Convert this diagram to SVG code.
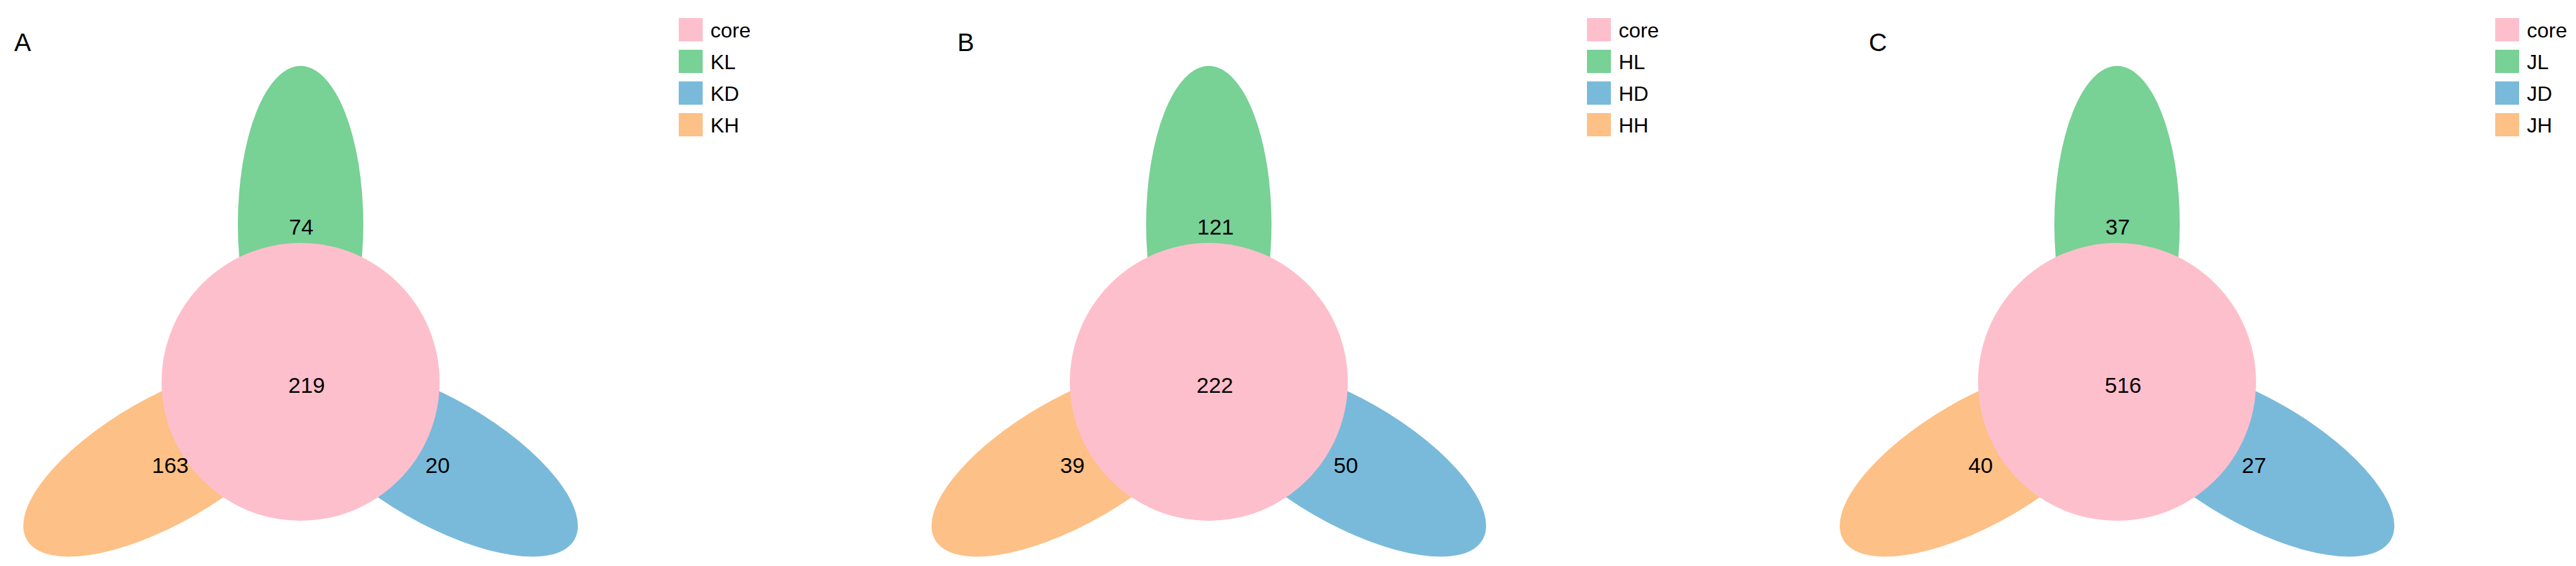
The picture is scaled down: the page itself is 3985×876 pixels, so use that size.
<svg xmlns="http://www.w3.org/2000/svg" width="3985" height="876" viewBox="0 0 3985 876">
<style>
.pink{fill:#FEBFCC}
.green{fill:#78D195}
.blue{fill:#79BADB}
.orange{fill:#FDC086}
.num{font-family:"Liberation Sans",Arial,sans-serif;font-size:34px;fill:#000}
.title{font-family:"Liberation Sans",Arial,sans-serif;font-size:39px;fill:#000}
.leg{font-family:"Liberation Sans",Arial,sans-serif;font-size:32px;fill:#000}
</style>
<defs>
<ellipse id="petal" cx="465" cy="347" rx="97" ry="245"/>
</defs>
<rect width="3985" height="876" fill="#fff"/>
<text class="title" x="22" y="79">A</text>
<text class="title" x="1481" y="79">B</text>
<text class="title" x="2891" y="79">C</text>

<g id="panelA">
  <g id="A-KL"><use href="#petal" class="green"/><text class="num" x="447" y="363">74</text></g>
  <g id="A-KD"><use href="#petal" class="blue" transform="rotate(120 465 591)"/></g>
  <g id="A-KH"><use href="#petal" class="orange" transform="rotate(240 465 591)"/></g>
  <g id="A-core"><circle class="pink" cx="465" cy="591" r="215"/><text class="num" x="446" y="608">219</text></g>
  <text class="num" x="235" y="732">163</text>
  <text class="num" x="658" y="732">20</text>
  <g id="A-legend">
    <rect class="pink" x="1050" y="28" width="37" height="36"/><text class="leg" x="1099" y="58">core</text>
    <rect class="green" x="1050" y="77" width="37" height="36"/><text class="leg" x="1099" y="107">KL</text>
    <rect class="blue" x="1050" y="126" width="37" height="36"/><text class="leg" x="1099" y="156">KD</text>
    <rect class="orange" x="1050" y="175" width="37" height="36"/><text class="leg" x="1099" y="205">KH</text>
  </g>
</g>

<g id="panelB" transform="translate(1405,0)">
  <g id="B-HL"><use href="#petal" class="green"/><text class="num" x="447" y="363">121</text></g>
  <g id="B-HD"><use href="#petal" class="blue" transform="rotate(120 465 591)"/></g>
  <g id="B-HH"><use href="#petal" class="orange" transform="rotate(240 465 591)"/></g>
  <g id="B-core"><circle class="pink" cx="465" cy="591" r="215"/><text class="num" x="446" y="608">222</text></g>
  <text class="num" x="235" y="732">39</text>
  <text class="num" x="658" y="732">50</text>
  <g id="B-legend">
    <rect class="pink" x="1050" y="28" width="37" height="36"/><text class="leg" x="1099" y="58">core</text>
    <rect class="green" x="1050" y="77" width="37" height="36"/><text class="leg" x="1099" y="107">HL</text>
    <rect class="blue" x="1050" y="126" width="37" height="36"/><text class="leg" x="1099" y="156">HD</text>
    <rect class="orange" x="1050" y="175" width="37" height="36"/><text class="leg" x="1099" y="205">HH</text>
  </g>
</g>

<g id="panelC" transform="translate(2810,0)">
  <g id="C-JL"><use href="#petal" class="green"/><text class="num" x="447" y="363">37</text></g>
  <g id="C-JD"><use href="#petal" class="blue" transform="rotate(120 465 591)"/></g>
  <g id="C-JH"><use href="#petal" class="orange" transform="rotate(240 465 591)"/></g>
  <g id="C-core"><circle class="pink" cx="465" cy="591" r="215"/><text class="num" x="446" y="608">516</text></g>
  <text class="num" x="235" y="732">40</text>
  <text class="num" x="658" y="732">27</text>
  <g id="C-legend">
    <rect class="pink" x="1050" y="28" width="37" height="36"/><text class="leg" x="1099" y="58">core</text>
    <rect class="green" x="1050" y="77" width="37" height="36"/><text class="leg" x="1099" y="107">JL</text>
    <rect class="blue" x="1050" y="126" width="37" height="36"/><text class="leg" x="1099" y="156">JD</text>
    <rect class="orange" x="1050" y="175" width="37" height="36"/><text class="leg" x="1099" y="205">JH</text>
  </g>
</g>
<g id="connectors"/>
</svg>
